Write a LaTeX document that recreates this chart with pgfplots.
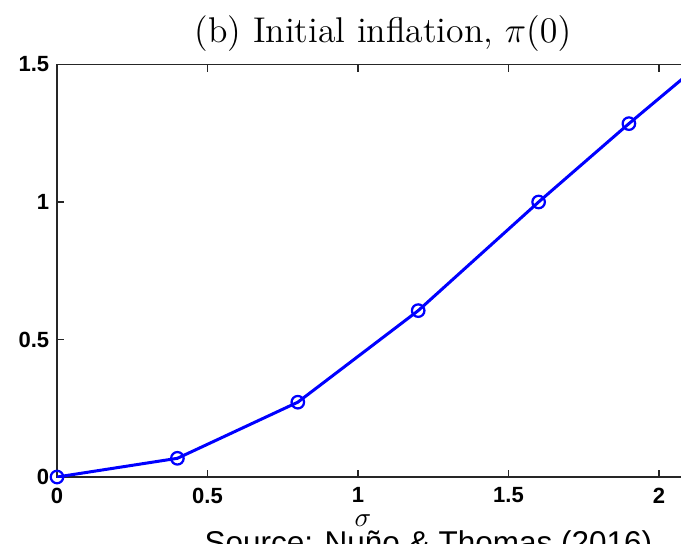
\documentclass[border=0pt]{standalone}
\usepackage{pgfplots}
\pgfplotsset{compat=1.18}
\usepackage{fontspec}
\newfontfamily\arialfont{Liberation Sans}
\begin{document}
\begin{tikzpicture}[x=1pt,y=1pt]
\begin{axis}[
  at={(0,0)}, anchor=south west,
  scale only axis, width=301pt, height=165pt,
  xmin=0, xmax=2.5, ymin=0, ymax=1.5,
  xtick={0,0.5,1,1.5,2}, ytick={0,0.5,1,1.5},
  xticklabels={0,0.5,1,1.5,2},
  yticklabels={0,0.5,1,1.5},
  extra x ticks={2.5}, extra x tick labels={},
  tick align=inside, major tick length=2.8pt,
  ticklabel style={font=\arialfont\bfseries\fontsize{8.8}{10}\selectfont, text=black},
  xticklabel style={yshift=-0.8pt},
  yticklabel style={xshift=0.4pt},
  axis line style={line width=0.6pt, black!85},
  every tick/.style={black!85, line width=0.5pt},
  clip=true,
]
\addplot[blue, line width=1.2pt, no marks] coordinates {
  (0,0) (0.4,0.068) (0.8,0.272) (1.2,0.605) (1.6,1.0) (1.9,1.285) (2.08,1.45)
};
\addplot[blue, only marks, mark=o, mark size=2.5pt, mark options={line width=0.9pt}] coordinates {
  (0,0) (0.4,0.068) (0.8,0.272) (1.2,0.605) (1.6,1.0) (1.9,1.285)
};
\end{axis}
\node[anchor=base, font=\fontsize{14.3}{16}\selectfont, inner sep=0pt] at (130.4,173.6) {(b) Initial inflation, $\pi(0)$};
\node[font=\fontsize{11}{12}\selectfont, inner sep=0pt] at (122.4,-17.4) {$\sigma$};
\node[anchor=base west, font=\arialfont\fontsize{12.6}{14}\selectfont, inner sep=0pt] at (58.8,-30.4) {Source: Nuño \& Thomas (2016)};
\pgfresetboundingbox
\path[use as bounding box] (-22.8,-26.4) rectangle (249.6,190.8);
\end{tikzpicture}
\end{document}
